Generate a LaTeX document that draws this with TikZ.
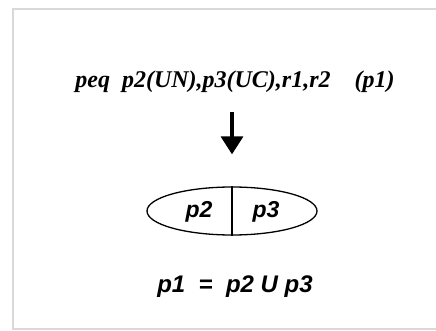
\documentclass[tikz,border=0pt]{standalone}
\usepackage{fontspec}
\setmainfont{Liberation Serif}
\setsansfont{Liberation Sans}
\usetikzlibrary{arrows.meta,shapes.geometric}
\tikzset{
    ruletext/.style={font=\fontsize{24}{28}\selectfont\bfseries\itshape},
    bigtext/.style={font=\fontsize{24}{29}\selectfont\sffamily\bfseries\itshape},
    parttext/.style={font=\fontsize{23}{28}\selectfont\sffamily\bfseries\itshape},
}
\begin{document}
\begin{tikzpicture}[x=1pt,y=-1pt]
    \useasboundingbox (0,0) rectangle (436,331);
    % frame
    \draw[gray!30, line width=2pt] (460,9) -- (13,9) -- (13,329) -- (460,329);
    % rule
    \node[ruletext] (rule) at (235,82) {peq\ \ p2(UN),p3(UC),r1,r2\ \ \ \ (p1)};
    % split
    \node[draw, ellipse, line width=1.3pt, minimum width=170pt, minimum height=48pt] (pair) at (232,211) {};
    \draw[line width=1.3pt] (pair.north) -- (pair.south);
    \node[parttext] (left) at (199,212) {p2};
    \node[parttext] (right) at (266,212) {p3};
    \draw[line width=3.5pt, -{Triangle[width=22pt,length=18pt]}, shorten <=16pt, shorten >=32pt] (rule.south -| pair.north) -- (pair.north);
    % result
    \node[bigtext] (result) at (235,287) {p1\ \ =\ \ p2 U p3};
\end{tikzpicture}
\end{document}
